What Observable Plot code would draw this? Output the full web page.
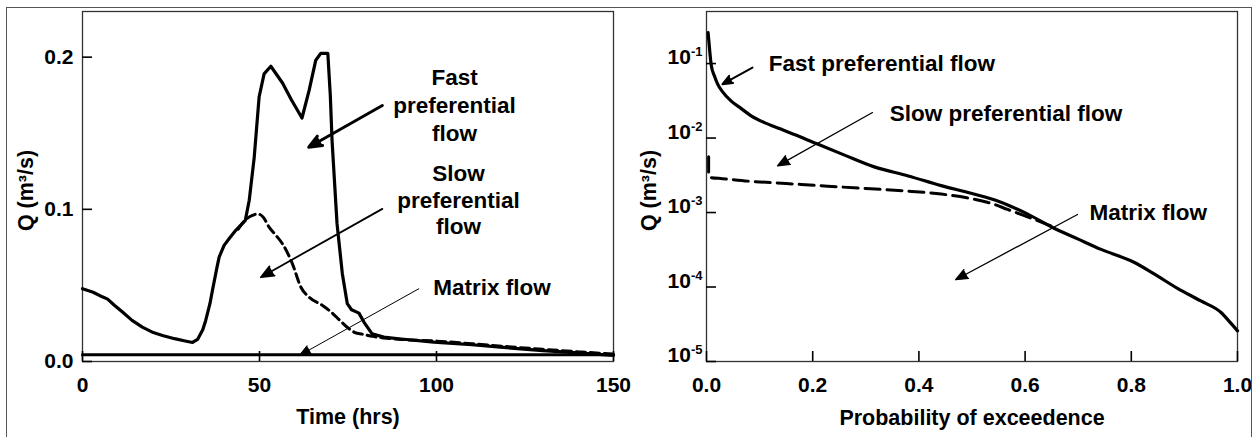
<!DOCTYPE html>
<html><head><meta charset="utf-8">
<script src="https://cdn.jsdelivr.net/npm/d3@7"></script>
<script src="https://cdn.jsdelivr.net/npm/@observablehq/plot@0.6"></script>
<style>
body{margin:0;background:#fff;}
#wrap{position:relative;width:1254px;height:437px;background:#fff;overflow:hidden;font-family:"Liberation Sans",Arial,sans-serif;}
#left,#right{position:absolute;top:0;}
#left{left:0}
#right{left:627px}
#border{position:absolute;left:6px;top:7px;width:1246px;height:450px;border:1.5px solid #555;box-sizing:border-box;pointer-events:none}
</style></head><body>
<div id="wrap"><div id="left"></div><div id="right"></div><div id="border"></div></div>
<script>
// ---- Left panel: hydrograph (Time vs Q) ----
const fastTime = [0,3,5.6,7.1,9,11.3,14,16.9,20,22.6,26,29,31.1,32.5,34,34.8,36,36.7,38,38.6,40,41.5,43.3,46,47.1,48.5,49.9,51.3,53.2,56.5,59,62,64,65.9,67.3,69.3,70,70.5,71.9,73.4,74.8,76,78.1,79.5,81.8,85.1,90,99.2,110,118,130,136.9,150];
const fastQ = [0.0478,0.0455,0.0425,0.041,0.037,0.0325,0.027,0.0226,0.019,0.0171,0.015,0.0135,0.0125,0.0145,0.021,0.027,0.038,0.0467,0.062,0.0686,0.0763,0.081,0.0862,0.0928,0.106,0.134,0.174,0.189,0.194,0.183,0.172,0.160,0.178,0.198,0.2025,0.2025,0.175,0.145,0.0906,0.0577,0.038,0.034,0.0318,0.0259,0.0182,0.016,0.0148,0.0127,0.011,0.0094,0.0072,0.0061,0.004];
const slowTime = [44,46,48,49.5,51,52.7,54.6,56.5,59.3,61.7,64,67.8,70,72.7,75.3,77,79,82,85,90,100,110,120,130,140,150];
const slowQ = [0.087,0.093,0.096,0.097,0.095,0.0883,0.083,0.0773,0.0642,0.0488,0.0423,0.0368,0.033,0.027,0.0215,0.019,0.018,0.0165,0.0155,0.0145,0.0134,0.0117,0.0098,0.008,0.0064,0.0049];
const matrixTime = [0,150];
const matrixQ = [0.0045,0.0045];
const timeTicks = [0,50,100,150];
const qTicks = [0,0.1,0.2];

// ---- Right panel: flow duration curves ----
const exceedFastP = [0.003,0.006,0.009,0.015,0.021,0.03,0.046,0.065,0.084,0.11,0.14,0.175,0.209,0.26,0.316,0.38,0.442,0.5,0.552,0.605,0.65,0.7,0.743,0.805,0.843,0.887,0.931,0.969,0.987,1.0];
const exceedFastQ = [0.26,0.15,0.095,0.068,0.053,0.042,0.0316,0.025,0.0199,0.016,0.0132,0.0105,0.0083,0.0059,0.0041,0.0031,0.0023,0.0018,0.0014,0.00095,0.00064,0.00044,0.00032,0.000215,0.00015,0.000096,0.000065,0.0000455,0.000033,0.0000258];
const exceedSlowP = [0.004,0.004,0.008,0.03,0.078,0.15,0.228,0.3,0.379,0.442,0.49,0.54,0.567,0.6,0.627,0.66];
const exceedSlowQ = [0.0056,0.0034,0.00295,0.00285,0.00264,0.00245,0.00226,0.0021,0.00194,0.00177,0.00158,0.0013,0.0011,0.0009,0.00076,0.00061];
const probTicks = [0,0.2,0.4,0.6,0.8,1.0];
const logTicks = [1e-5,1e-4,1e-3,1e-2,1e-1];

// ---- Annotation texts ----
const leftFastLabel = ["Fast","preferential","flow"];
const leftSlowLabel = ["Slow","preferential","flow"];
const matrixLabel = "Matrix flow";
const rightFastLabel = "Fast preferential flow";
const rightSlowLabel = "Slow preferential flow";
const yTitle = "Q (m³/s)";
const leftXTitle = "Time (hrs)";
const rightXTitle = "Probability of exceedence";

const zip = (xs, ys) => xs.map((x, i) => ({x, y: ys[i]}));
const FONT = "'Liberation Sans', Arial, Helvetica, sans-serif";
const style = {fontFamily: FONT, fontSize: "21px", fontWeight: "bold", color: "black", background: "transparent", overflow: "visible"};
const annFont = {fontSize: 22.5, fontWeight: "bold", fill: "black", fontFamily: FONT};
const titleFont = {fontSize: 21.5, fontWeight: "bold", fill: "black", fontFamily: FONT};

const W = 627, H = 437, MT = 11, MB = 76;
const TICK = 10; // inward tick length, px
const frameH = H - MT - MB;

// left-panel annotation positions (data units)
const leftFastPos = {x: 105.1, y: [0.1814, 0.1630, 0.1446]};
const leftSlowPos = {x: 106.2, y: [0.1189, 0.1012, 0.0835]};

const LML = 82, LMR = 14, lFrameW = W - LML - LMR;
const left = Plot.plot({
  width: W, height: H,
  marginLeft: LML, marginRight: LMR, marginTop: MT, marginBottom: MB,
  style,
  x: {domain: [0, 150]},
  y: {domain: [0, 0.23]},
  marks: [
    Plot.frame({stroke: "#333", strokeWidth: 1.3}),
    Plot.axisX(timeTicks, {tickSize: 0, tickPadding: 16, tickFormat: d => String(d), label: null}),
    Plot.axisY(qTicks, {tickSize: 0, tickPadding: 9, tickFormat: d3.format(".1f"), label: null}),
    Plot.ruleX(timeTicks, {x: d => d, insetTop: frameH - TICK, stroke: "black", strokeWidth: 1.6}),
    Plot.ruleY(qTicks, {y: d => d, insetRight: lFrameW - TICK, stroke: "black", strokeWidth: 1.6}),
    Plot.line(zip(matrixTime, matrixQ), {x: "x", y: "y", stroke: "black", strokeWidth: 3}),
    Plot.line(zip(slowTime, slowQ), {x: "x", y: "y", curve: "monotone-x", stroke: "black", strokeWidth: 3, strokeDasharray: "9,5", strokeLinejoin: "round"}),
    Plot.line(zip(fastTime, fastQ), {x: "x", y: "y", stroke: "black", strokeWidth: 3.2, strokeLinejoin: "round"}),
    Plot.text(leftFastLabel, {x: () => leftFastPos.x, y: (d, i) => leftFastPos.y[i], text: d => d, textAnchor: "middle", lineAnchor: "bottom", ...annFont}),
    Plot.text(leftSlowLabel, {x: () => leftSlowPos.x, y: (d, i) => leftSlowPos.y[i], text: d => d, textAnchor: "middle", lineAnchor: "bottom", ...annFont}),
    Plot.text([matrixLabel], {x: () => 115.7, y: () => 0.0434, text: d => d, textAnchor: "middle", lineAnchor: "bottom", ...annFont}),
    Plot.arrow([0], {x1: () => 84.7, y1: () => 0.1682, x2: () => 63.9, y2: () => 0.1408, stroke: "black", fill: "black", strokeWidth: 3, headLength: 7, headAngle: 45}),
    Plot.arrow([0], {x1: () => 84.7, y1: () => 0.1003, x2: () => 50.4, y2: () => 0.0554, stroke: "black", fill: "black", strokeWidth: 1.8, headLength: 11.5, headAngle: 45}),
    Plot.arrow([0], {x1: () => 95.0, y1: () => 0.0478, x2: () => 61.2, y2: () => 0.0039, stroke: "black", fill: "black", strokeWidth: 1, headLength: 19, headAngle: 45}),
    Plot.text([yTitle], {frameAnchor: "left", dx: -50, dy: 4, rotate: -90, text: d => d, textAnchor: "middle", lineAnchor: "bottom", ...titleFont}),
    Plot.text([leftXTitle], {frameAnchor: "bottom", dy: 62, text: d => d, textAnchor: "middle", lineAnchor: "bottom", ...titleFont})
  ]
});
document.getElementById("left").append(left);

const RML = 79, RMR = 17, rFrameW = W - RML - RMR;
const right = Plot.plot({
  width: W, height: H,
  marginLeft: RML, marginRight: RMR, marginTop: MT, marginBottom: MB,
  style,
  x: {domain: [0, 1]},
  y: {type: "log", domain: [1e-5, 0.5]},
  marks: [
    Plot.frame({stroke: "#333", strokeWidth: 1.3}),
    Plot.axisX(probTicks, {tickSize: 0, tickPadding: 16, tickFormat: d3.format(".1f"), label: null}),
    Plot.axisY(logTicks, {tickSize: 0, tickPadding: 4, dy: -6, tickFormat: d => String(Math.round(Math.log10(d))), label: null}),
    Plot.ruleX(probTicks, {x: d => d, insetTop: frameH - TICK, stroke: "black", strokeWidth: 1.6}),
    Plot.ruleY(logTicks, {y: d => d, insetRight: rFrameW - TICK, stroke: "black", strokeWidth: 1.6}),
    Plot.line(zip(exceedSlowP, exceedSlowQ), {x: "x", y: "y", curve: "monotone-x", stroke: "black", strokeWidth: 3, strokeDasharray: "15,7", strokeLinejoin: "round"}),
    Plot.line(zip(exceedFastP, exceedFastQ), {x: "x", y: "y", curve: "monotone-x", stroke: "black", strokeWidth: 3.2, strokeLinejoin: "round"}),
    Plot.text([rightFastLabel], {x: () => 0.1173, y: () => 0.07857, text: d => d, textAnchor: "start", lineAnchor: "bottom", ...annFont}),
    Plot.text([rightSlowLabel], {x: () => 0.3452, y: () => 0.01702, text: d => d, textAnchor: "start", lineAnchor: "bottom", ...annFont}),
    Plot.text([matrixLabel], {x: () => 0.7213, y: () => 0.000805, text: d => d, textAnchor: "start", lineAnchor: "bottom", ...annFont}),
    Plot.arrow([0], {x1: () => 0.0866, y1: () => 0.0884, x2: () => 0.0301, y2: () => 0.0529, stroke: "black", fill: "black", strokeWidth: 2, headLength: 8, headAngle: 45}),
    Plot.arrow([0], {x1: () => 0.3126, y1: () => 0.02199, x2: () => 0.1337, y2: () => 0.004233, stroke: "black", fill: "black", strokeWidth: 1.3, headLength: 15, headAngle: 45}),
    Plot.arrow([0], {x1: () => 0.6987, y1: () => 0.000940, x2: () => 0.4691, y2: () => 0.0001253, stroke: "black", fill: "black", strokeWidth: 1.3, headLength: 15, headAngle: 45}),
    Plot.text([yTitle], {frameAnchor: "left", dx: -51, dy: 4, rotate: -90, text: d => d, textAnchor: "middle", lineAnchor: "bottom", ...titleFont}),
    Plot.text([rightXTitle], {frameAnchor: "bottom", dy: 63, text: d => d, textAnchor: "middle", lineAnchor: "bottom", ...titleFont})
  ]
});
// Render exponents as superscripts: 10^-n
const NS = "http://www.w3.org/2000/svg";
right.querySelectorAll('g[aria-label="y-axis tick label"] text').forEach(t => {
  const e = t.textContent;
  t.textContent = "";
  const base = document.createElementNS(NS, "tspan");
  base.textContent = "10";
  const sup = document.createElementNS(NS, "tspan");
  sup.setAttribute("dy", "-8");
  sup.setAttribute("font-size", "13");
  sup.textContent = e;
  t.append(base, sup);
});
document.getElementById("right").append(right);
</script></body></html>
